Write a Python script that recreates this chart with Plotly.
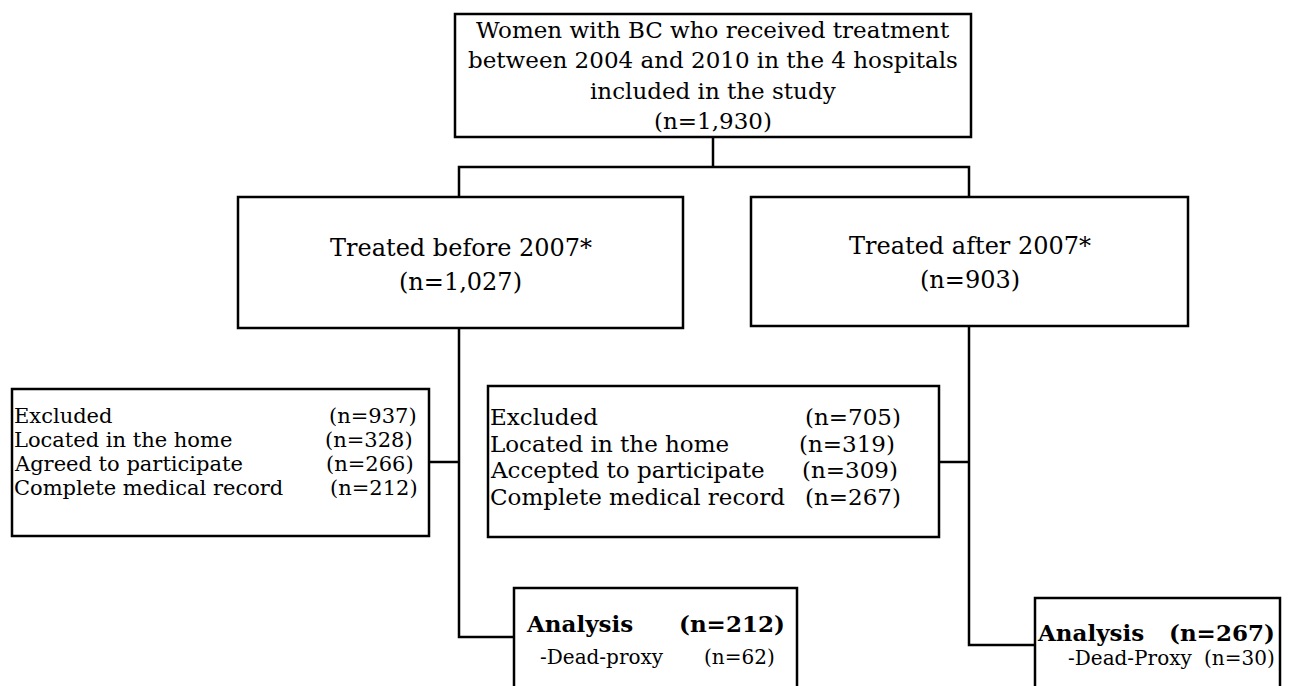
import plotly.graph_objects as go

# ---------------- data ----------------
top_lines = ["Women with BC who received treatment",
             "between 2004 and 2010 in the 4 hospitals",
             "included in the study"]
total_n = 1930
groups = ["Treated before 2007*", "Treated after 2007*"]
group_n = [1027, 903]
stages_before = ["Excluded", "Located in the home", "Agreed to participate", "Complete medical record"]
stages_after = ["Excluded", "Located in the home", "Accepted to participate", "Complete medical record"]
n_before = [937, 328, 266, 212]
n_after = [705, 319, 309, 267]
analysis_label = "Analysis"
analysis_n = [212, 267]
proxy_labels = ["-Dead-proxy", "-Dead-Proxy"]
proxy_n = [62, 30]

# ---------------- layout geometry (page pixels) ----------------
W, H = 1290, 686
OFF = 8  # page body margin
FONT = "DejaVu Serif"
LW = 2.5

def fmt(n):
    return f"(n={n:,})"

fig = go.Figure()
shapes = []
ann = []

def box(x0, y0, x1, y1):
    shapes.append(dict(type="rect", x0=x0, y0=y0, x1=x1, y1=y1, xref="x", yref="y",
                       line=dict(color="black", width=LW), fillcolor="rgba(0,0,0,0)"))

def path(pts):
    d = "M" + " L".join(f"{x},{y}" for x, y in pts)
    shapes.append(dict(type="path", path=d, xref="x", yref="y",
                       line=dict(color="black", width=LW)))

def text(x, y, s, size, anchor="center", bold=False):
    if bold:
        s = f"<b>{s}</b>"
    ann.append(dict(x=x, y=y, xref="x", yref="y", text=s, showarrow=False,
                    xanchor=anchor, yanchor="middle",
                    font=dict(family=FONT, size=size, color="black")))

# top box
box(455, 14, 971, 137)
top_all = top_lines + [fmt(total_n)]
for i, s in enumerate(top_all):
    text(713, [30, 60, 91, 121][i], s, 23)

# connectors from top
path([(713, 137), (713, 167)])
path([(459, 197), (459, 167), (969, 167), (969, 197)])

# group boxes
gx = [(238, 683, 197, 328), (751, 1188, 197, 326)]
gy = [(248, 282), (246, 280)]
for k in range(2):
    x0, x1, y0, y1 = gx[k]
    box(x0, y0, x1, y1)
    cx = (x0 + x1) / 2
    text(cx, gy[k][0], groups[k], 24)
    text(cx, gy[k][1], fmt(group_n[k]), 24)

# exclusion boxes
box(12, 389, 429, 536)
box(488, 386, 939, 537)
rows_l = [416, 440, 464, 488]
rows_r = [417, 444, 470, 497]
ends_l = [419, 415, 416, 420]
ends_r = [903, 897, 900, 903]
for i in range(4):
    text(12, rows_l[i], stages_before[i], 21, "left")
    text(ends_l[i], rows_l[i], fmt(n_before[i]), 21, "right")
    text(488, rows_r[i], stages_after[i], 23, "left")
    text(ends_r[i], rows_r[i], fmt(n_after[i]), 23, "right")

# branch lines
path([(459, 328), (459, 637), (514, 637)])
path([(429, 462), (459, 462)])
path([(969, 326), (969, 645), (1035, 645)])
path([(939, 462), (969, 462)])

# analysis boxes
box(514, 588, 797, 700)
box(1035, 598, 1280, 700)
text(524, 623, analysis_label, 23, "left", bold=True)
text(787, 623, fmt(analysis_n[0]), 23, "right", bold=True)
text(538, 657, proxy_labels[0], 20, "left")
text(777, 657, fmt(proxy_n[0]), 20, "right")
text(1035, 632, analysis_label, 23, "left", bold=True)
text(1277, 632, fmt(analysis_n[1]), 23, "right", bold=True)
text(1066, 658, proxy_labels[1], 20, "left")
text(1277, 658, fmt(proxy_n[1]), 20, "right")

fig.update_layout(
    width=W - OFF, height=H - OFF,
    margin=dict(l=0, r=0, t=0, b=0),
    paper_bgcolor="white", plot_bgcolor="white",
    xaxis=dict(range=[OFF, W], visible=False, fixedrange=True),
    yaxis=dict(range=[H, OFF], visible=False, fixedrange=True),
    shapes=shapes, annotations=ann, showlegend=False,
)
fig.write_html("out.html")
